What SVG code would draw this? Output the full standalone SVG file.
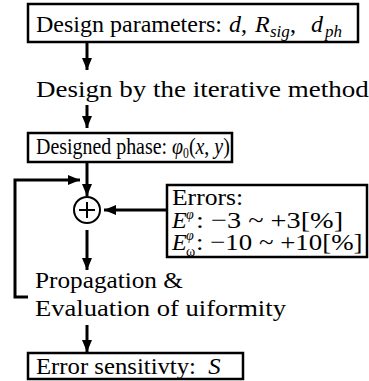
<svg xmlns="http://www.w3.org/2000/svg" width="369" height="381" viewBox="0 0 369 381">
<defs>
<marker id="ah" markerUnits="userSpaceOnUse" markerWidth="12" markerHeight="12" refX="12" refY="5" orient="auto">
<path d="M0,0 L12,5 L0,10 Z" fill="#000"/>
</marker>
<style>
text{font-family:'Liberation Serif','Times New Roman',serif;fill:#000}
.t{font-size:24px}
.e{font-size:24px}
.i{font-style:italic}
.box{fill:#fff;stroke:#000;stroke-width:2.5}
.c{fill:none;stroke:#000;stroke-width:3}
</style>
</defs>
<rect width="369" height="381" fill="#fff"/>
<g id="connectors">
<line class="c" x1="87" y1="42" x2="87" y2="70" marker-end="url(#ah)"/>
<line class="c" x1="87" y1="105" x2="87" y2="128" marker-end="url(#ah)"/>
<line class="c" x1="87" y1="162" x2="87" y2="196" marker-end="url(#ah)"/>
<path class="c" d="M28,297 H15 V180 H80" marker-end="url(#ah)"/>
<line class="c" x1="167" y1="210" x2="104" y2="210" marker-end="url(#ah)"/>
<line class="c" x1="87" y1="230" x2="87" y2="270" marker-end="url(#ah)"/>
<line class="c" x1="87" y1="325" x2="87" y2="352" marker-end="url(#ah)"/>
</g>
<g id="design-parameters">
<rect class="box" x="28" y="4" width="330" height="38"/>
<text class="t" x="36" y="32" font-size="23">Design parameters:</text>
<text class="t" y="32"><tspan class="i" x="229">d</tspan><tspan x="241">,</tspan><tspan class="i" x="255">R</tspan><tspan class="i" x="270" dy="5" font-size="17">sig</tspan><tspan x="290" dy="-5">,</tspan><tspan class="i" x="311">d</tspan><tspan class="i" x="325" dy="5" font-size="17">ph</tspan></text>
</g>
<g id="iterative-design">
<text class="t" transform="translate(36,97) scale(1.125,1)" font-size="25">Design by the iterative method</text>
</g>
<g id="designed-phase">
<rect class="box" x="28" y="133" width="204" height="29"/>
<text class="t" transform="translate(36,154) scale(0.83,1)" font-size="21">Designed phase: <tspan class="i">φ</tspan><tspan font-size="14" dy="4">0</tspan><tspan dy="-4">(</tspan><tspan class="i">x</tspan>, <tspan class="i">y</tspan>)</text>
</g>
<g id="sum">
<circle cx="87" cy="210" r="13" fill="#fff" stroke="#000" stroke-width="2"/>
<line x1="79" y1="210" x2="95" y2="210" stroke="#000" stroke-width="2"/>
<line x1="87" y1="202" x2="87" y2="218" stroke="#000" stroke-width="2"/>
</g>
<g id="errors">
<rect class="box" x="167" y="185" width="200" height="72"/>
<text class="e" transform="translate(172,205) scale(1.066,1)">Errors:</text>
<text class="e i" x="172" y="228">E</text>
<text class="i" x="186" y="219" font-size="14">φ</text>
<text class="e" transform="translate(196,228) scale(1.18,1)">: −3 ~ +3[%]</text>
<text class="e i" x="172" y="250">E</text>
<text class="i" x="186" y="240" font-size="14">φ</text>
<text x="186" y="256" font-size="14">ω</text>
<text class="e" transform="translate(196,250) scale(1.12,1)">: −10 ~ +10[%]</text>
</g>
<g id="propagation">
<text class="t" transform="translate(35,288) scale(1.052,1)" font-size="25">Propagation &amp;</text>
<text class="t" transform="translate(35,316) scale(1.108,1)" font-size="25">Evaluation of uiformity</text>
</g>
<g id="error-sensitivity">
<rect class="box" x="28" y="353" width="215" height="26"/>
<text class="t" transform="translate(36,374) scale(1.03,1)" xml:space="preserve">Error sensitivty:  <tspan class="i">S</tspan></text>
</g>
</svg>
